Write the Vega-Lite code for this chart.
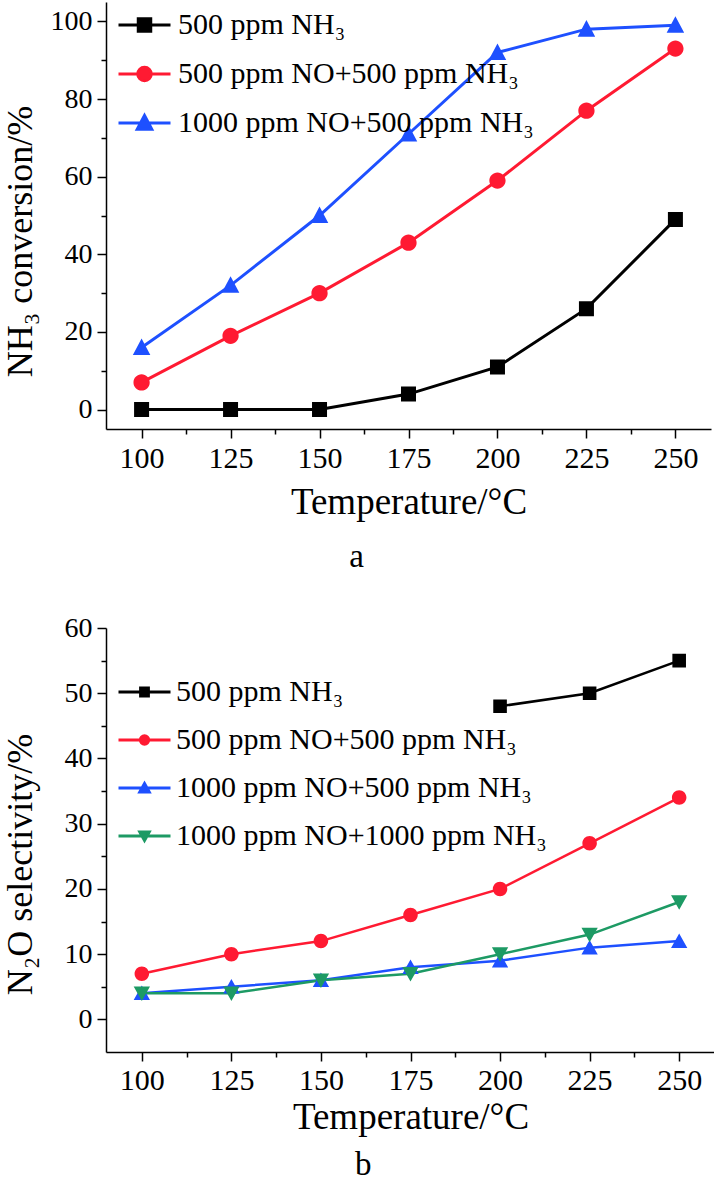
{
  "$schema": "https://vega.github.io/schema/vega-lite/v6.json",
  "padding": {"left": 2, "top": 2, "right": 0, "bottom": 0},
  "background": "white",
  "config": {
    "view": {"stroke": null},
    "font": "Liberation Serif",
    "axis": {"grid": false, "domainColor": "#000000", "domainWidth": 1.5, "tickColor": "#000000", "tickWidth": 1.5, "labelColor": "#000000", "titleColor": "#000000", "labelFont": "Liberation Serif", "titleFont": "Liberation Serif", "titleFontWeight": "normal", "labelOverlap": false, "labelFlush": false},
    "title": {"font": "Liberation Serif"}
  },
  "datasets": {
    "conv": [
      {"temp": 100, "value": 0, "series": "500 ppm NH₃"},
      {"temp": 125, "value": 0, "series": "500 ppm NH₃"},
      {"temp": 150, "value": 0, "series": "500 ppm NH₃"},
      {"temp": 175, "value": 4, "series": "500 ppm NH₃"},
      {"temp": 200, "value": 11, "series": "500 ppm NH₃"},
      {"temp": 225, "value": 26, "series": "500 ppm NH₃"},
      {"temp": 250, "value": 49, "series": "500 ppm NH₃"},
      {"temp": 100, "value": 7, "series": "500 ppm NO+500 ppm NH₃"},
      {"temp": 125, "value": 19, "series": "500 ppm NO+500 ppm NH₃"},
      {"temp": 150, "value": 30, "series": "500 ppm NO+500 ppm NH₃"},
      {"temp": 175, "value": 43, "series": "500 ppm NO+500 ppm NH₃"},
      {"temp": 200, "value": 59, "series": "500 ppm NO+500 ppm NH₃"},
      {"temp": 225, "value": 77, "series": "500 ppm NO+500 ppm NH₃"},
      {"temp": 250, "value": 93, "series": "500 ppm NO+500 ppm NH₃"},
      {"temp": 100, "value": 16, "series": "1000 ppm NO+500 ppm NH₃"},
      {"temp": 125, "value": 32, "series": "1000 ppm NO+500 ppm NH₃"},
      {"temp": 150, "value": 50, "series": "1000 ppm NO+500 ppm NH₃"},
      {"temp": 175, "value": 71, "series": "1000 ppm NO+500 ppm NH₃"},
      {"temp": 200, "value": 92, "series": "1000 ppm NO+500 ppm NH₃"},
      {"temp": 225, "value": 98, "series": "1000 ppm NO+500 ppm NH₃"},
      {"temp": 250, "value": 99, "series": "1000 ppm NO+500 ppm NH₃"}
    ],
    "sel": [
      {"temp": 200, "value": 48, "series": "500 ppm NH₃"},
      {"temp": 225, "value": 50, "series": "500 ppm NH₃"},
      {"temp": 250, "value": 55, "series": "500 ppm NH₃"},
      {"temp": 100, "value": 7, "series": "500 ppm NO+500 ppm NH₃"},
      {"temp": 125, "value": 10, "series": "500 ppm NO+500 ppm NH₃"},
      {"temp": 150, "value": 12, "series": "500 ppm NO+500 ppm NH₃"},
      {"temp": 175, "value": 16, "series": "500 ppm NO+500 ppm NH₃"},
      {"temp": 200, "value": 20, "series": "500 ppm NO+500 ppm NH₃"},
      {"temp": 225, "value": 27, "series": "500 ppm NO+500 ppm NH₃"},
      {"temp": 250, "value": 34, "series": "500 ppm NO+500 ppm NH₃"},
      {"temp": 100, "value": 4, "series": "1000 ppm NO+500 ppm NH₃"},
      {"temp": 125, "value": 5, "series": "1000 ppm NO+500 ppm NH₃"},
      {"temp": 150, "value": 6, "series": "1000 ppm NO+500 ppm NH₃"},
      {"temp": 175, "value": 8, "series": "1000 ppm NO+500 ppm NH₃"},
      {"temp": 200, "value": 9, "series": "1000 ppm NO+500 ppm NH₃"},
      {"temp": 225, "value": 11, "series": "1000 ppm NO+500 ppm NH₃"},
      {"temp": 250, "value": 12, "series": "1000 ppm NO+500 ppm NH₃"},
      {"temp": 100, "value": 4, "series": "1000 ppm NO+1000 ppm NH₃"},
      {"temp": 125, "value": 4, "series": "1000 ppm NO+1000 ppm NH₃"},
      {"temp": 150, "value": 6, "series": "1000 ppm NO+1000 ppm NH₃"},
      {"temp": 175, "value": 7, "series": "1000 ppm NO+1000 ppm NH₃"},
      {"temp": 200, "value": 10, "series": "1000 ppm NO+1000 ppm NH₃"},
      {"temp": 225, "value": 13, "series": "1000 ppm NO+1000 ppm NH₃"},
      {"temp": 250, "value": 18, "series": "1000 ppm NO+1000 ppm NH₃"}
    ]
  },
  "columns": 1,
  "spacing": 40,
  "resolve": {"scale": {"color": "independent", "stroke": "independent", "shape": "independent"}},
  "concat": [
    {
      "width": 605,
      "height": 427,
      "data": {"name": "conv"},
      "title": {"text": "a", "orient": "bottom", "frame": "bounds", "anchor": "middle", "fontSize": 33, "fontWeight": "normal", "baseline": "alphabetic", "offset": 47, "color": "#000000"},
      "encoding": {
        "x": {"field": "temp", "type": "quantitative", "scale": {"domain": [90, 260], "nice": false, "zero": false},
          "axis": {"values": [100, 112.5, 125, 137.5, 150, 162.5, 175, 187.5, 200, 212.5, 225, 237.5, 250],
            "labelExpr": "datum.value % 25 === 0 ? datum.label : ''",
            "tickSize": {"condition": {"test": "datum.value % 25 === 0", "value": 9}, "value": 5},
            "labelFontSize": 30, "labelBaseline": "alphabetic", "labelPadding": 29,
            "title": "Temperature/°C", "titleFontSize": 37, "titleBaseline": "alphabetic", "titleY": 84}},
        "y": {"field": "value", "type": "quantitative", "scale": {"domain": [-5, 105], "nice": false, "zero": false},
          "axis": {"values": [0, 10, 20, 30, 40, 50, 60, 70, 80, 90, 100],
            "labelExpr": "datum.value % 20 === 0 ? datum.label : ''",
            "tickSize": {"condition": {"test": "datum.value % 20 === 0", "value": 9}, "value": 5},
            "labelFontSize": 28, "labelPadding": 5,
            "title": "NH₃ conversion/%", "titleFontSize": 36, "titleX": -67, "titleY": 239, "titleAlign": "center", "titleBaseline": "bottom", "titleAngle": 270}}
      },
      "layer": [
        {"transform": [{"filter": "datum.series === '500 ppm NH₃'"}], "mark": {"type": "line", "strokeWidth": 3, "color": "#000000"}},
        {"transform": [{"filter": "datum.series === '500 ppm NO+500 ppm NH₃'"}], "mark": {"type": "line", "strokeWidth": 3, "color": "#ff1a32"}},
        {"transform": [{"filter": "datum.series === '1000 ppm NO+500 ppm NH₃'"}], "mark": {"type": "line", "strokeWidth": 3, "color": "#1e50ff"}},
        {"mark": {"type": "point", "filled": true, "opacity": 1, "size": 977},
          "encoding": {
            "strokeWidth": {"value": 0},
            "color": {"field": "series", "type": "nominal",
              "scale": {"domain": ["500 ppm NH₃", "500 ppm NO+500 ppm NH₃", "1000 ppm NO+500 ppm NH₃"], "range": ["#000000", "#ff1a32", "#1e50ff"]},
              "legend": {"orient": "none", "legendX": 23.5, "legendY": 8, "title": null, "padding": 0, "symbolSize": 676, "symbolStrokeWidth": 3, "labelFont": "Liberation Serif", "labelFontSize": 30, "labelOffset": 18.5, "rowPadding": 19, "labelLimit": 700,
                "encode": {"labels": {"fill": {"condition": [{"test": "datum.value === '500 ppm NO+500 ppm NH₃'", "value": "#ff1a32"}, {"test": "datum.value === '1000 ppm NO+500 ppm NH₃'", "value": "#1e50ff"}], "value": "#000000"}}}}},
            "stroke": {"field": "series", "type": "nominal",
              "scale": {"domain": ["500 ppm NH₃", "500 ppm NO+500 ppm NH₃", "1000 ppm NO+500 ppm NH₃"], "range": ["#000000", "#ff1a32", "#1e50ff"]},
              "legend": {"orient": "none", "legendX": 23.5, "legendY": 8, "title": null, "padding": 0, "symbolSize": 676, "symbolStrokeWidth": 3, "labelFont": "Liberation Serif", "labelFontSize": 30, "labelOffset": 18.5, "rowPadding": 19, "labelLimit": 700,
                "encode": {"labels": {"fill": {"condition": [{"test": "datum.value === '500 ppm NO+500 ppm NH₃'", "value": "#ff1a32"}, {"test": "datum.value === '1000 ppm NO+500 ppm NH₃'", "value": "#1e50ff"}], "value": "#000000"}}}}},
            "shape": {"field": "series", "type": "nominal",
              "scale": {"domain": ["500 ppm NH₃", "500 ppm NO+500 ppm NH₃", "1000 ppm NO+500 ppm NH₃"],
                "range": ["M-2,0H2M-0.48,-0.48H0.48V0.48H-0.48Z", "M-2,0H2M0.52,0A0.52,0.52 0 1,1 -0.52,0A0.52,0.52 0 1,1 0.52,0Z", "M-2,0H2M0,-0.58L0.56,0.48H-0.56Z"]},
              "legend": {"orient": "none", "legendX": 23.5, "legendY": 8, "title": null, "padding": 0, "symbolSize": 676, "symbolStrokeWidth": 3, "labelFont": "Liberation Serif", "labelFontSize": 30, "labelOffset": 18.5, "rowPadding": 19, "labelLimit": 700,
                "encode": {"labels": {"fill": {"condition": [{"test": "datum.value === '500 ppm NO+500 ppm NH₃'", "value": "#ff1a32"}, {"test": "datum.value === '1000 ppm NO+500 ppm NH₃'", "value": "#1e50ff"}], "value": "#000000"}}}}}}}
      ]
    },
    {
      "width": 609,
      "height": 424,
      "data": {"name": "sel"},
      "title": {"text": "b", "orient": "bottom", "frame": "bounds", "anchor": "middle", "fontSize": 33, "fontWeight": "normal", "baseline": "alphabetic", "offset": 40, "color": "#000000"},
      "encoding": {
        "x": {"field": "temp", "type": "quantitative", "scale": {"domain": [90, 260], "nice": false, "zero": false},
          "axis": {"values": [100, 112.5, 125, 137.5, 150, 162.5, 175, 187.5, 200, 212.5, 225, 237.5, 250],
            "labelExpr": "datum.value % 25 === 0 ? datum.label : ''",
            "tickSize": {"condition": {"test": "datum.value % 25 === 0", "value": 9}, "value": 5},
            "labelFontSize": 30, "labelBaseline": "alphabetic", "labelPadding": 28,
            "title": "Temperature/°C", "titleFontSize": 37, "titleBaseline": "alphabetic", "titleY": 76}},
        "y": {"field": "value", "type": "quantitative", "scale": {"domain": [-5, 60], "nice": false, "zero": false},
          "axis": {"values": [0, 5, 10, 15, 20, 25, 30, 35, 40, 45, 50, 55, 60],
            "labelExpr": "datum.value % 10 === 0 ? datum.label : ''",
            "tickSize": {"condition": {"test": "datum.value % 10 === 0", "value": 9}, "value": 5},
            "labelFontSize": 28, "labelPadding": 5,
            "title": "N₂O selectivity/%", "titleFontSize": 36, "titleX": -67, "titleY": 236, "titleAlign": "center", "titleBaseline": "bottom", "titleAngle": 270}}
      },
      "layer": [
        {"transform": [{"filter": "datum.series === '500 ppm NH₃'"}], "mark": {"type": "line", "strokeWidth": 2.5, "color": "#000000"}},
        {"transform": [{"filter": "datum.series === '500 ppm NO+500 ppm NH₃'"}], "mark": {"type": "line", "strokeWidth": 2.5, "color": "#ff1a32"}},
        {"transform": [{"filter": "datum.series === '1000 ppm NO+500 ppm NH₃'"}], "mark": {"type": "line", "strokeWidth": 2.5, "color": "#1e50ff"}},
        {"transform": [{"filter": "datum.series === '1000 ppm NO+1000 ppm NH₃'"}], "mark": {"type": "line", "strokeWidth": 2.5, "color": "#1d9a64"}},
        {"mark": {"type": "point", "filled": true, "opacity": 1, "size": 2053},
          "encoding": {
            "strokeWidth": {"value": 0},
            "color": {"field": "series", "type": "nominal",
              "scale": {"domain": ["500 ppm NH₃", "500 ppm NO+500 ppm NH₃", "1000 ppm NO+500 ppm NH₃", "1000 ppm NO+1000 ppm NH₃"], "range": ["#000000", "#ff1a32", "#1e50ff", "#1d9a64"]},
              "legend": {"orient": "none", "legendX": 23.5, "legendY": 49, "title": null, "padding": 0, "symbolSize": 676, "symbolStrokeWidth": 3, "labelFont": "Liberation Serif", "labelFontSize": 30, "labelOffset": 16.5, "rowPadding": 18, "labelLimit": 700,
                "encode": {"labels": {"fill": {"condition": [{"test": "datum.value === '500 ppm NO+500 ppm NH₃'", "value": "#ff1a32"}, {"test": "datum.value === '1000 ppm NO+500 ppm NH₃'", "value": "#1e50ff"}, {"test": "datum.value === '1000 ppm NO+1000 ppm NH₃'", "value": "#119a30"}], "value": "#000000"}}}}},
            "stroke": {"field": "series", "type": "nominal",
              "scale": {"domain": ["500 ppm NH₃", "500 ppm NO+500 ppm NH₃", "1000 ppm NO+500 ppm NH₃", "1000 ppm NO+1000 ppm NH₃"], "range": ["#000000", "#ff1a32", "#1e50ff", "#1d9a64"]},
              "legend": {"orient": "none", "legendX": 23.5, "legendY": 49, "title": null, "padding": 0, "symbolSize": 676, "symbolStrokeWidth": 3, "labelFont": "Liberation Serif", "labelFontSize": 30, "labelOffset": 16.5, "rowPadding": 18, "labelLimit": 700,
                "encode": {"labels": {"fill": {"condition": [{"test": "datum.value === '500 ppm NO+500 ppm NH₃'", "value": "#ff1a32"}, {"test": "datum.value === '1000 ppm NO+500 ppm NH₃'", "value": "#1e50ff"}, {"test": "datum.value === '1000 ppm NO+1000 ppm NH₃'", "value": "#119a30"}], "value": "#000000"}}}}},
            "shape": {"field": "series", "type": "nominal",
              "scale": {"domain": ["500 ppm NH₃", "500 ppm NO+500 ppm NH₃", "1000 ppm NO+500 ppm NH₃", "1000 ppm NO+1000 ppm NH₃"],
                "range": ["M-2,0H2M-0.3,-0.3H0.3V0.3H-0.3Z", "M-2,0H2M0.32,0A0.32,0.32 0 1,1 -0.32,0A0.32,0.32 0 1,1 0.32,0Z", "M-2,0H2M0,-0.34L0.36,0.3H-0.36Z", "M-2,0H2M0,0.34L0.36,-0.3H-0.36Z"]},
              "legend": {"orient": "none", "legendX": 23.5, "legendY": 49, "title": null, "padding": 0, "symbolSize": 676, "symbolStrokeWidth": 3, "labelFont": "Liberation Serif", "labelFontSize": 30, "labelOffset": 16.5, "rowPadding": 18, "labelLimit": 700,
                "encode": {"labels": {"fill": {"condition": [{"test": "datum.value === '500 ppm NO+500 ppm NH₃'", "value": "#ff1a32"}, {"test": "datum.value === '1000 ppm NO+500 ppm NH₃'", "value": "#1e50ff"}, {"test": "datum.value === '1000 ppm NO+1000 ppm NH₃'", "value": "#119a30"}], "value": "#000000"}}}}}}}
      ]
    }
  ]
}
